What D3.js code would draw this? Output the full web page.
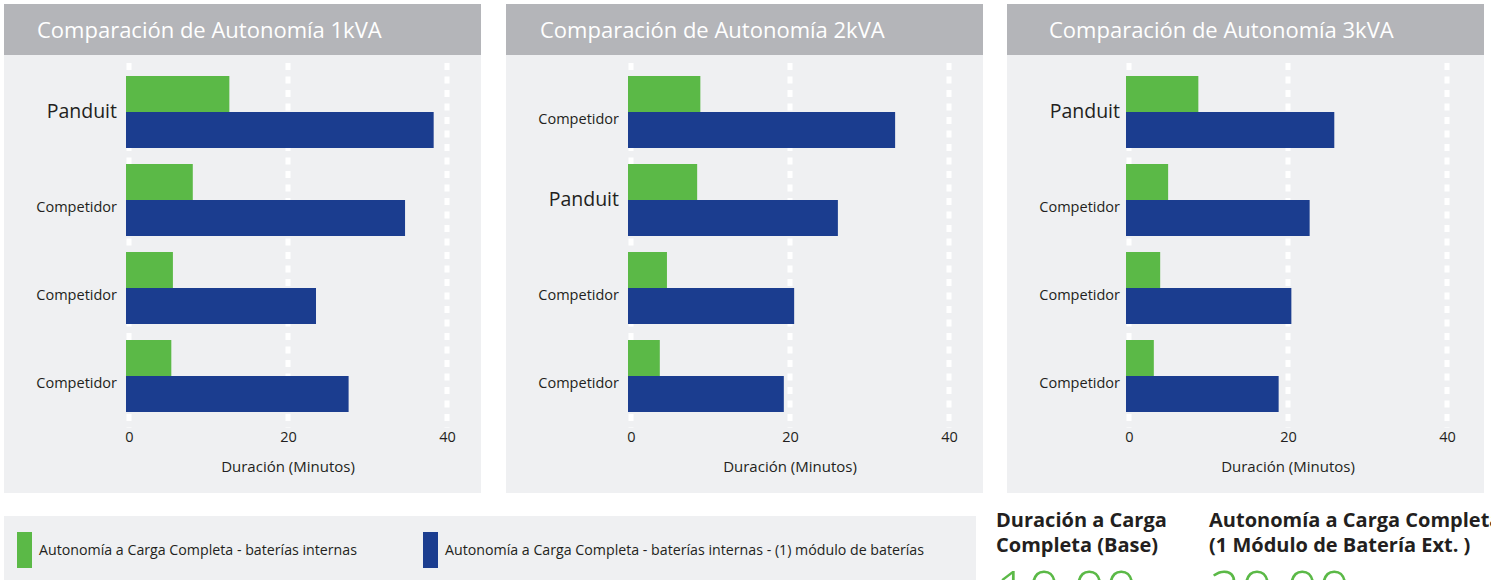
<!DOCTYPE html>
<html>
<head>
<meta charset="utf-8">
<script src="https://cdn.jsdelivr.net/npm/d3@7.9.0/dist/d3.min.js"></script>
<style>
  html, body { margin: 0; padding: 0; background: #fff; }
  svg { display: block; font-family: "Open Sans", sans-serif; }
</style>
</head>
<body>
<svg id="chart" width="1491" height="580"></svg>
<script>
// panel titles and row labels
const panelTitles = ['Comparación de Autonomía 1kVA', 'Comparación de Autonomía 2kVA', 'Comparación de Autonomía 3kVA'];
const rowLabels = [
  ['Panduit', 'Competidor', 'Competidor', 'Competidor'],
  ['Competidor', 'Panduit', 'Competidor', 'Competidor'],
  ['Panduit', 'Competidor', 'Competidor', 'Competidor']
];

// minutes, one array per panel
const internalValues = [
  [13.0, 8.4, 5.9, 5.7],
  [9.1, 8.7, 4.9, 4.0],
  [9.1, 5.3, 4.3, 3.5]
];
const moduleValues = [
  [38.7, 35.1, 23.9, 28.0],
  [33.6, 26.4, 20.9, 19.6],
  [26.2, 23.1, 20.8, 19.2]
];

const seriesNames = ['Autonomía a Carga Completa - baterías internas', 'Autonomía a Carga Completa - baterías internas - (1) módulo de baterías'];
const xTicks = [0, 20, 40];
const axisTitle = 'Duración (Minutos)';

const summaryHeads = [['Duración a Carga', 'Completa (Base)'], ['Autonomía a Carga Completa', '(1 Módulo de Batería Ext. )']];
const summaryValues = ['10.00', '20.00'];

const GREEN = '#5bb947', BLUE = '#1b3d8f', HEADER = '#b4b5b9', BODY = '#eff0f2', INK = '#231f20';

const svg = d3.select('#chart');

const panelX = [4, 506, 1007];
const panelW = 477;
const titleInset = [33, 34, 42];
const plotShift = [0, 0, -3];

const x = d3.scaleLinear().domain([0, 40]).range([122, 440]);
const y = d3.scaleBand().domain(d3.range(4)).range([76, 412]).paddingInner(16 / 88);
const ySub = d3.scaleBand().domain([0, 1]).range([0, y.bandwidth()]);
const color = d3.scaleOrdinal().domain([0, 1]).range([GREEN, BLUE]);

panelTitles.forEach((title, p) => {
  const g = svg.append('g').attr('transform', `translate(${panelX[p]},0)`);

  g.append('rect').attr('x', 0).attr('y', 55).attr('width', panelW).attr('height', 438).attr('fill', BODY);
  g.append('rect').attr('x', 0).attr('y', 4).attr('width', panelW).attr('height', 51).attr('fill', HEADER);
  g.append('text')
    .attr('x', titleInset[p]).attr('y', 38)
    .attr('fill', '#fff')
    .attr('font-size', 22)
    .text(title);

  const plot = g.append('g').attr('transform', `translate(${plotShift[p]},0)`);

  // dotted white grid lines
  plot.selectAll('line.grid')
    .data(xTicks)
    .join('line')
    .attr('class', 'grid')
    .attr('x1', d => x(d) + 3).attr('x2', d => x(d) + 3)
    .attr('y1', 63).attr('y2', 428)
    .attr('stroke', '#fff')
    .attr('stroke-width', 5)
    .attr('stroke-dasharray', '7 6.5');

  const rows = plot.selectAll('g.row')
    .data(d3.range(4))
    .join('g')
    .attr('class', 'row')
    .attr('transform', i => `translate(0,${y(i)})`);

  rows.selectAll('rect')
    .data(i => [internalValues[p][i], moduleValues[p][i]])
    .join('rect')
    .attr('x', x(0))
    .attr('y', (d, s) => ySub(s))
    .attr('width', d => x(d) - x(0))
    .attr('height', ySub.bandwidth())
    .attr('fill', (d, s) => color(s));

  rows.append('text')
    .attr('x', x(0) - 9 - plotShift[p])
    .attr('y', i => rowLabels[p][i] === 'Panduit' ? 42 : 48)
    .attr('text-anchor', 'end')
    .attr('fill', INK)
    .attr('font-size', i => rowLabels[p][i] === 'Panduit' ? 19.5 : 14.5)
    .text(i => rowLabels[p][i]);

  const axis = d3.axisBottom(x).tickValues(xTicks).tickSize(0).tickPadding(0);
  const ax = plot.append('g').attr('transform', 'translate(3,432)').call(axis);
  ax.select('.domain').remove();
  ax.selectAll('text').attr('font-size', 14.5).attr('fill', INK).attr('font-family', '"Open Sans", sans-serif');

  plot.append('text')
    .attr('x', x(20) + 3).attr('y', 472)
    .attr('text-anchor', 'middle')
    .attr('fill', INK)
    .attr('font-size', 15)
    .text(axisTitle);
});

// legend
svg.append('rect').attr('x', 4).attr('y', 516).attr('width', 972).attr('height', 70).attr('fill', BODY);
const legendX = [17, 423];
const legendW = [318, 479];
seriesNames.forEach((name, s) => {
  svg.append('rect')
    .attr('x', legendX[s]).attr('y', 532)
    .attr('width', 15).attr('height', 36)
    .attr('fill', color(s));
  svg.append('text')
    .attr('x', legendX[s] + 22).attr('y', 555)
    .attr('font-size', 14)
    .attr('fill', INK)
    .attr('textLength', legendW[s])
    .attr('lengthAdjust', 'spacingAndGlyphs')
    .text(name);
});

// summary at the lower right, cut by the page edge as in the source
const summaryX = [996, 1209];
summaryHeads.forEach((lines, k) => {
  lines.forEach((line, j) => {
    svg.append('text')
      .attr('x', summaryX[k]).attr('y', 527 + j * 25)
      .attr('font-size', 20)
      .attr('font-weight', 700)
      .attr('fill', INK)
      .text(line);
  });
  svg.append('text')
    .attr('x', summaryX[k]).attr('y', 611)
    .attr('font-size', 56)
    .attr('font-weight', 300)
    .attr('fill', GREEN)
    .text(summaryValues[k]);
});
</script>
</body>
</html>
